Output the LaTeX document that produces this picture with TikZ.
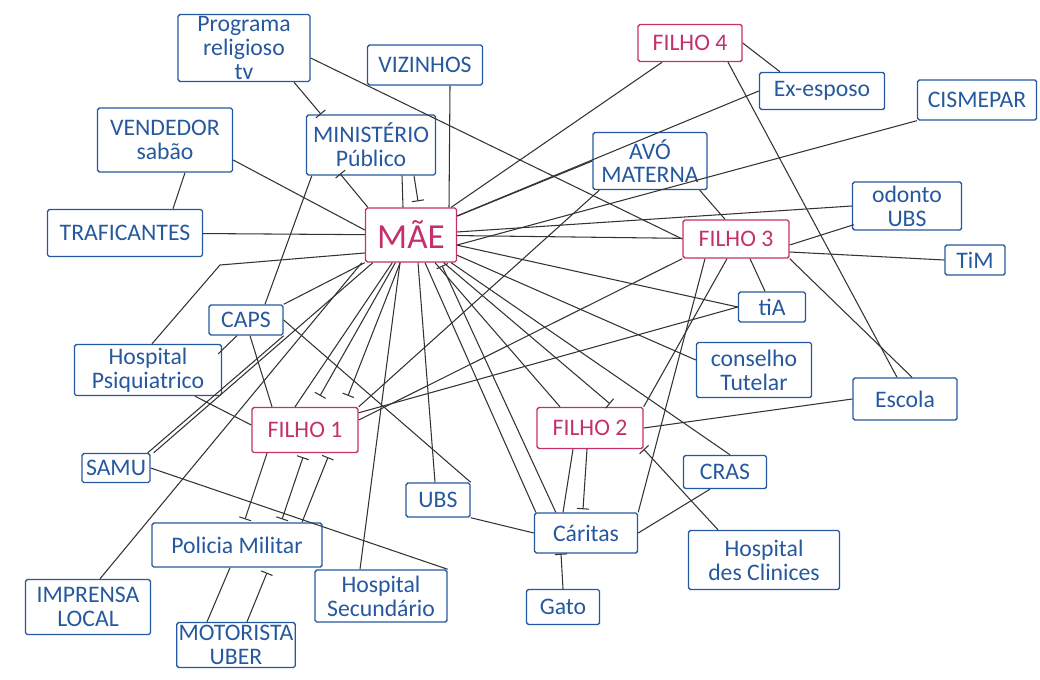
\documentclass[tikz,border=0pt]{standalone}
\usepackage{fontspec}
\setmainfont{Carlito}
\usetikzlibrary{arrows.meta,calc}
\definecolor{azul}{RGB}{38,88,158}
\definecolor{rosa}{RGB}{196,48,108}

\begin{document}
\begin{tikzpicture}
[
    x=0.02cm, y=-0.02cm,
    caixa/.style={draw, line width=0.8pt, rounded corners=1pt, inner sep=1pt, align=center, font=\fontsize{13.5}{13.5}\selectfont},
    rede/.style={caixa, draw=azul, text=azul},
    familia/.style={caixa, draw=rosa, text=rosa},
    tam/.style 2 args={minimum width=#1*0.02cm, minimum height=#2*0.02cm},
    liga/.style={draw=black!80, line width=0.6pt},
    inibe/.style={liga, -{Bar[width=7pt]}},
    inibe2/.style={liga, {Bar[width=7pt]}-{Bar[width=7pt]}},
]
\useasboundingbox (0,0) rectangle (1040,679);

% atores
\node [rede, tam={132}{67}] (prog) at (244,48) {Programa\\religioso\\tv};
\node [rede, tam={115}{40}] (vizinhos) at (425,65) {VIZINHOS};
\node [familia, tam={104}{37}] (filho4) at (690,43) {FILHO 4};
\node [rede, tam={125}{37}] (exesposo) at (822,91) {Ex-esposo};
\node [rede, tam={119}{40}] (cismepar) at (977,100) {CISMEPAR};
\node [rede, tam={135}{64}] (vendedor) at (165,140) {VENDEDOR\\sabão};
\node [rede, tam={129}{60}] (mp) at (371,145) {MINISTÉRIO\\Público};
\node [rede, tam={114}{57}] (avo) at (650,161) {AVÓ\\MATERNA};
\node [rede, tam={109}{48}] (odonto) at (907,206) {odonto\\UBS};
\node [familia, tam={91}{54}, font=\fontsize{20}{20}\selectfont] (mae) at (411,235) {MÃE};
\node [rede, tam={155}{47}] (traf) at (125,233) {TRAFICANTES};
\node [familia, tam={106}{38}] (filho3) at (736,239) {FILHO 3};
\node [rede, tam={60}{30}] (tim) at (975,260) {TiM};
\node [rede, tam={67}{30}] (tia) at (772,307) {tiA};
\node [rede, tam={74}{30}] (caps) at (246,320) {CAPS};
\node [rede, tam={147}{51}] (hpsiq) at (148,370) {Hospital\\Psiquiatrico};
\node [rede, tam={115}{55}] (conselho) at (754,370) {conselho\\Tutelar};
\node [rede, tam={104}{42}] (escola) at (905,399) {Escola};
\node [familia, tam={106}{45}] (filho1) at (305,430) {FILHO 1};
\node [familia, tam={106}{41}] (filho2) at (590,428) {FILHO 2};
\node [rede, tam={68}{29}] (samu) at (116,468) {SAMU};
\node [rede, tam={83}{33}] (cras) at (725,472) {CRAS};
\node [rede, tam={64}{34}] (ubs) at (438,500) {UBS};
\node [rede, tam={103}{40}] (caritas) at (586,533) {Cáritas};
\node [rede, tam={170}{44}] (pm) at (237,545) {Policia Militar};
\node [rede, tam={151}{59}] (hclin) at (764,560) {Hospital\\des Clinices};
\node [rede, tam={125}{55}] (imprensa) at (88,607) {IMPRENSA\\LOCAL};
\node [rede, tam={132}{52}] (hsec) at (381,596) {Hospital\\Secundário};
\node [rede, tam={73}{35}] (gato) at (563,607) {Gato};
\node [rede, tam={113}{45}] (uber) at (236,645) {MOTORISTA\\UBER};
\coordinate (dobra) at (220,265);

% vinculos da mae
\draw [liga] ($(vizinhos.south)+(25,0)$) -- ($(mae.north)+(38,0)$);
\draw [liga] (traf) -- (mae);
\draw [liga] ($(vendedor.east)+(0,20)$) -- ($(mae.west)+(0,-5)$);
\draw [inibe] ($(mae.north west)+(3,0)$) -- ($(mp.south)+(-31,-2)$);
\draw [liga] ($(mp.south)+(31,0)$) -- ($(mae.north)+(-8,0)$);
\draw [inibe] ($(mp.south)+(43,0)$) -- ($(mae.north)+(7,-6)$);
\draw [liga] (filho4) -- (mae);
\draw [liga] (exesposo.west) -- (mae);
\draw [liga] (cismepar.south west) -- ($(mae.east)+(0,10)$);
\draw [liga] (avo.west) -- (mae);
\draw [liga] (odonto.west) -- (mae);
\draw [liga] (mae) -- (filho3);
\draw [liga] (mae) -- (tia.west);
\draw [liga] (mae) -- ($(conselho.west)+(0,-10)$);
\draw [liga] (mae) -- ($(cras.north)+(5,0)$);
\draw [liga] (mae) -- ($(filho2.north)+(-30,0)$);
\draw [inibe] (mae) -- ($(filho2.north)+(20,-3)$);
\draw [liga] ($(mae.south)+(14,0)$) -- ($(caritas.north west)+(2,0)$);
\draw [inibe] ($(caritas.north west)+(22,0)$) -- ($(mae.south)+(31,3)$);
\draw [liga] ($(mae.south)+(7,0)$) -- ($(ubs.north)+(-3,0)$);
\draw [liga] ($(mae.south)+(-11,0)$) -- ($(hsec.north)+(-21,0)$);
\draw [liga] (mae) -- ($(filho1.north)+(-10,0)$);
\draw [inibe] (mae) -- ($(filho1.north)+(15,-11)$);
\draw [inibe] (mae) -- ($(filho1.north)+(43,-11)$);
\draw [liga] (mae.south west) -- (caps.north east);
\draw [liga] ($(mae.west)+(0,18)$) -- (dobra) -- ($(hpsiq.north)+(4,0)$);
\draw [liga] ($(samu.north east)+(3,0)$) -- ($(mae.south west)+(8,0)$);
\draw [liga] ($(imprensa.north)+(12,0)$) -- ($(mae.south west)+(-3,0)$);

% demais vinculos
\draw [inibe] ($(prog.south)+(50,0)$) -- ($(mp.north)+(-50,0)$);
\draw [liga] ($(prog.east)+(0,10)$) -- (filho3.west);
\draw [liga] ($(vendedor.south)+(20,0)$) -- ($(traf.north)+(48,0)$);
\draw [liga] ($(mp.south west)+(6,0)$) -- ($(caps.north)+(19,0)$);
\draw [liga] (filho4.east) -- ($(exesposo.north)+(-42,0)$);
\draw [liga] ($(filho4.south)+(38,0)$) -- ($(escola.north)+(-8,0)$);
\draw [liga] ($(avo.south east)+(-8,0)$) -- ($(filho3.north)+(-11,0)$);
\draw [liga] ($(avo.south west)+(7,0)$) -- (filho1.north east);
\draw [liga] ($(odonto.south west)+(2,-6)$) -- ($(filho3.east)+(0,6)$);
\draw [liga] (tim.west) -- ($(filho3.east)+(0,13)$);
\draw [liga] ($(filho3.south)+(14,0)$) -- ($(tia.north)+(-7,0)$);
\draw [liga] (filho3.south west) -- ($(filho1.east)+(0,-10)$);
\draw [liga] ($(filho3.south)+(-9,0)$) -- (filho2.north east);
\draw [liga] ($(filho3.south)+(-31,0)$) -- (caritas.north east);
\draw [liga] (filho3.south east) -- ($(escola.north)+(7,0)$);
\draw [liga] (tia.west) -- ($(filho1.north east)+(0,6)$);
\draw [liga] (escola.west) -- (filho2.east);
\draw [liga] ($(filho2.south)+(-17,0)$) -- ($(caritas.north)+(-23,0)$);
\draw [inibe] ($(filho2.south)+(-3,0)$) -- ($(caritas.north)+(-3,-3)$);
\draw [inibe] ($(hclin.north)+(-46,0)$) -- (filho2.south east);
\draw [liga] ($(cras.south)+(-15,0)$) -- (caritas.east);
\draw [liga] (ubs.south east) -- (caritas.west);
\draw [inibe] (gato.north) -- ($(caritas.south)+(-25,0)$);
\draw [liga] (caps.east) -- (ubs.north east);
\draw [liga] ($(caps.south)+(4,0)$) -- ($(filho1.north)+(-33,0)$);
\draw [liga] ($(caps.south)+(-9,0)$) -- ($(hpsiq.north east)+(-4,10)$);
\draw [liga] ($(hpsiq.south)+(47,0)$) -- ($(filho1.west)+(0,-5)$);
\draw [inibe] ($(filho1.south)+(-38,0)$) -- ($(pm.north)+(8,-3)$);
\draw [inibe2] ($(filho1.south)+(-2,4)$) -- ($(pm.north)+(45,-3)$);
\draw [inibe] ($(pm.north)+(65,0)$) -- ($(filho1.south)+(23,4)$);
\draw [liga] ($(uber.north)+(-29,0)$) -- ($(pm.south)+(-7,0)$);
\draw [inibe] ($(uber.north)+(11,0)$) -- ($(pm.south)+(30,5)$);
\draw [liga] ($(samu.north east)+(-3,0)$) -- (caps.south east);
\draw [liga] (samu.east) -- (hsec.north east);
\end{tikzpicture}
\end{document}
